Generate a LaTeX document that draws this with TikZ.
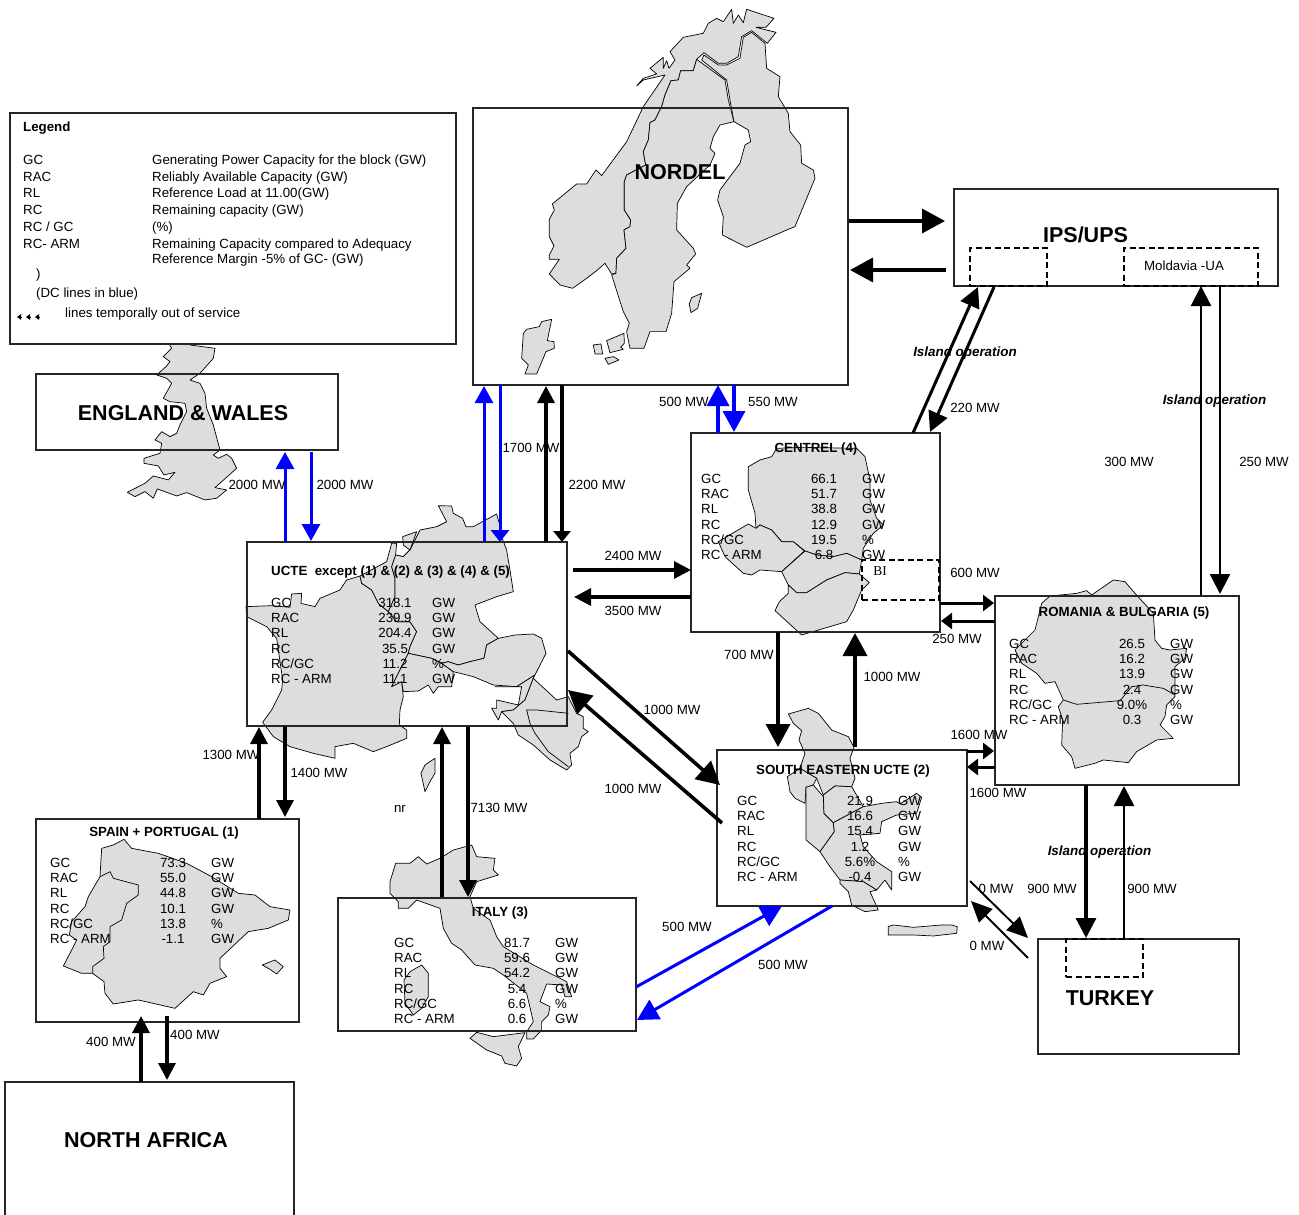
\documentclass[tikz,border=0pt]{standalone}
\usepackage{xcolor}
\usepackage{fontspec}
\setmainfont{Liberation Sans}
\newfontfamily\biserif{Liberation Serif}
\usetikzlibrary{arrows.meta,positioning,calc}
\definecolor{mapgrey}{HTML}{DDDDDD}
\definecolor{dcblue}{HTML}{0000FF}
\tikzstyle{regionbox} = [rectangle, draw=black!85, line width=1.05pt, inner sep=0pt, outer sep=0pt]
\tikzstyle{dashbox} = [rectangle, draw=black, line width=1.6pt, dash pattern=on 6pt off 3.5pt, inner sep=0pt, outer sep=0pt]
\tikzstyle{mapshape} = [draw=black, line width=0.7pt, fill=mapgrey, line join=round]
\tikzstyle{arrow} = [-{Triangle[length=17pt,width=17pt]}, line width=3.2pt, black]
\tikzstyle{bigarrow} = [-{Triangle[length=23pt,width=24pt]}, line width=3.6pt, black]
\tikzstyle{midarrow} = [-{Triangle[length=20pt,width=20pt]}, line width=3pt, black]
\tikzstyle{smallarrow} = [-{Triangle[length=11pt,width=16pt]}, line width=3pt, black]
\tikzstyle{thinarrow} = [-{Triangle[length=21pt,width=19pt]}, line width=1.9pt, black]
\tikzstyle{bluearrow} = [-{Triangle[length=17pt,width=18pt]}, line width=3pt, dcblue]
\tikzstyle{bigblue} = [-{Triangle[length=21pt,width=22pt]}, line width=3.6pt, dcblue]
\tikzstyle{tinyarrow} = [-{Triangle[length=4pt,width=5.5pt]}, line width=0.8pt, black]
\tikzstyle{plain} = [font=\fontsize{13.3}{15}\selectfont, inner sep=0pt, text height=9.3pt, text depth=0pt]
\tikzstyle{rowtext} = [plain, anchor=west]
\tikzstyle{mwlabel} = [plain]
\tikzstyle{titletext} = [font=\fontsize{13.3}{15}\selectfont\bfseries, inner sep=0pt, text height=9.3pt, text depth=0pt]
\tikzstyle{bigname} = [font=\fontsize{21.5}{24}\selectfont\bfseries, inner sep=0pt, text height=15.4pt, text depth=0pt]
\tikzstyle{islandtext} = [font=\fontsize{13.4}{15}\selectfont\bfseries\itshape, inner sep=0pt, text height=9.4pt, text depth=0pt]
\newcommand{\regiontable}[6]{%
  \foreach \lab/\val/\unit [count=\i] in {#6} {
    \node[rowtext] (#1lab\i) at (#2, #5+15.3*\i-15.3) {\lab};
    \node[plain] (#1val\i) at (#3, #5+15.3*\i-15.3) {\val};
    \node[rowtext] (#1unit\i) at (#4, #5+15.3*\i-15.3) {\unit};
  }
}
\begin{document}
\begin{tikzpicture}[x=1pt,y=-1pt]
\useasboundingbox (0,0) rectangle (1299,1215);

\begin{scope}[shift={(470,0)},x=0.3333pt,y=-0.3333pt]
\draw[mapshape] (830,28) -- (912,55) -- (888,82) -- (858,82) -- (918,97) -- (892,130) -- (845,92) -- (815,110) -- (805,170) -- (770,190) -- (745,190) -- (702,158) -- (680,178) -- (670,212) -- (632,212) -- (625,240) -- (603,242) -- (585,285) -- (575,320) -- (555,360) -- (540,368) -- (535,420) -- (520,455) -- (527,495) -- (470,525) -- (463,545) -- (463,630) -- (482,660) -- (480,680) -- (462,690) -- (468,745) -- (440,775) -- (438,820) -- (425,822) -- (405,790) -- (380,812) -- (350,835) -- (308,865) -- (270,855) -- (238,822) -- (268,778) -- (238,778) -- (238,765) -- (252,738) -- (238,710) -- (238,658) -- (253,630) -- (247,612) -- (320,552) -- (350,552) -- (378,510) -- (395,527) -- (470,425) -- (520,320) -- (585,225) -- (520,240) -- (500,258) -- (520,235) -- (560,222) -- (540,205) -- (580,172) -- (580,205) -- (590,182) -- (597,205) -- (615,180) -- (600,155) -- (640,112) -- (700,100) -- (715,70) -- (740,55) -- (760,65) -- (785,28) -- (790,70) -- (805,45) -- (820,68) -- cycle;
\draw[mapshape] (680,178) -- (765,240) -- (775,300) -- (792,365) -- (750,375) -- (730,410) -- (720,445) -- (735,460) -- (720,495) -- (650,560) -- (622,610) -- (620,690) -- (670,745) -- (677,762) -- (650,795) -- (660,805) -- (612,845) -- (605,940) -- (588,995) -- (540,995) -- (522,1045) -- (480,1045) -- (470,995) -- (478,970) -- (460,935) -- (425,825) -- (438,820) -- (440,775) -- (468,745) -- (462,690) -- (480,680) -- (482,660) -- (463,630) -- (463,545) -- (470,525) -- (527,495) -- (520,455) -- (535,420) -- (540,368) -- (555,360) -- (575,320) -- (585,285) -- (603,242) -- (625,240) -- (632,212) -- (670,212) -- cycle;
\draw[mapshape] (792,365) -- (835,390) -- (842,425) -- (825,435) -- (810,490) -- (750,570) -- (743,600) -- (760,650) -- (757,705) -- (830,742) -- (955,688) -- (975,680) -- (1035,535) -- (1030,510) -- (995,490) -- (992,435) -- (960,395) -- (955,340) -- (925,290) -- (930,230) -- (890,205) -- (885,130) -- (845,97) -- (820,112) -- (810,175) -- (770,195) -- (745,195) -- (702,165) -- (695,180) -- (770,240) -- (780,300) -- cycle;
\draw[mapshape] (695,880) -- (665,893) -- (658,912) -- (663,938) -- (683,925) -- cycle;
\draw[mapshape] (245,958) -- (215,965) -- (208,980) -- (170,988) -- (160,1000) -- (155,1075) -- (175,1095) -- (165,1122) -- (200,1122) -- (228,1055) -- (253,1045) -- (252,1025) -- (232,1022) -- cycle;
\draw[mapshape] (370,1035) -- (393,1032) -- (398,1062) -- (375,1062) -- cycle;
\draw[mapshape] (410,1022) -- (462,1000) -- (463,1030) -- (452,1042) -- (460,1048) -- (420,1058) -- cycle;
\draw[mapshape] (405,1075) -- (430,1070) -- (447,1080) -- (415,1093) -- cycle;
\end{scope}

\begin{scope}[shift={(0,100)},x=0.3333pt,y=-0.3333pt]
\draw[mapshape] (490,700) -- (515,745) -- (490,770) -- (510,785) -- (498,800) -- (470,825) -- (500,835) -- (515,850) -- (490,895) -- (510,905) -- (555,910) -- (560,935) -- (540,975) -- (530,1000) -- (510,1010) -- (485,995) -- (465,1020) -- (485,1030) -- (480,1060) -- (432,1075) -- (432,1090) -- (475,1098) -- (492,1125) -- (525,1117) -- (505,1140) -- (460,1128) -- (435,1150) -- (382,1177) -- (405,1190) -- (435,1175) -- (460,1195) -- (472,1167) -- (530,1188) -- (560,1178) -- (615,1200) -- (650,1195) -- (680,1170) -- (645,1163) -- (710,1105) -- (695,1075) -- (680,1063) -- (655,1075) -- (640,1065) -- (660,1050) -- (640,975) -- (620,925) -- (615,880) -- (600,850) -- (570,840) -- (600,820) -- (640,775) -- (645,745) -- (570,735) -- (560,700) -- cycle;
\end{scope}

\begin{scope}[shift={(240,490)},x=0.3333pt,y=-0.3333pt]
\draw[mapshape] (18,350) -- (95,347) -- (150,352) -- (155,312) -- (185,310) -- (183,340) -- (225,350) -- (240,325) -- (300,300) -- (320,270) -- (360,258) -- (365,280) -- (395,300) -- (415,340) -- (445,365) -- (470,395) -- (510,395) -- (530,425) -- (510,470) -- (505,490) -- (490,520) -- (470,560) -- (455,590) -- (485,575) -- (490,620) -- (480,660) -- (478,705) -- (500,720) -- (500,745) -- (440,770) -- (400,785) -- (340,760) -- (285,770) -- (285,805) -- (220,790) -- (150,770) -- (100,740) -- (68,697) -- (95,660) -- (125,600) -- (128,570) -- (110,445) -- (80,410) -- (50,395) -- (20,380) -- cycle;
\draw[mapshape] (360,258) -- (440,215) -- (455,160) -- (470,160) -- (467,195) -- (490,200) -- (510,180) -- (530,125) -- (488,140) -- (490,165) -- (510,180) -- (490,200) -- (467,195) -- (455,230) -- (465,265) -- (465,320) -- (445,365) -- (415,340) -- (395,300) -- (365,280) -- cycle;
\draw[mapshape] (510,180) -- (540,120) -- (590,110) -- (620,95) -- (595,47) -- (635,48) -- (640,70) -- (668,85) -- (678,110) -- (700,110) -- (770,72) -- (778,100) -- (785,140) -- (800,180) -- (810,240) -- (820,305) -- (770,320) -- (705,345) -- (720,395) -- (775,445) -- (740,465) -- (732,505) -- (690,515) -- (655,525) -- (625,515) -- (605,520) -- (575,505) -- (505,490) -- (510,470) -- (530,425) -- (510,395) -- (470,395) -- (445,365) -- (465,320) -- (465,265) -- (455,230) -- (467,195) -- (490,200) -- cycle;
\draw[mapshape] (505,490) -- (575,505) -- (605,520) -- (640,545) -- (635,590) -- (595,590) -- (580,610) -- (565,585) -- (535,603) -- (490,605) -- (485,575) -- (455,590) -- (470,560) -- (490,520) -- cycle;
\draw[mapshape] (775,445) -- (825,435) -- (880,432) -- (905,445) -- (918,490) -- (885,555) -- (830,590) -- (760,585) -- (700,560) -- (640,545) -- (605,520) -- (625,515) -- (655,525) -- (690,515) -- (732,505) -- (740,465) -- cycle;
\draw[mapshape] (765,590) -- (830,590) -- (845,590) -- (835,645) -- (770,630) -- (770,655) -- (755,655) -- (775,690) -- (785,665) -- (820,660) -- (855,630) -- (880,565) -- (885,555) -- (830,590) -- cycle;
\draw[mapshape] (880,565) -- (950,630) -- (985,620) -- (1010,670) -- (1030,680) -- (1030,715) -- (1045,725) -- (1025,740) -- (1015,770) -- (990,790) -- (995,825) -- (980,840) -- (930,810) -- (880,765) -- (835,735) -- (820,700) -- (785,665) -- (820,660) -- (855,630) -- cycle;
\draw[draw=black, line width=0.7pt] (985,670) -- (890,660) -- (860,660) -- (870,700) -- (885,730) -- (925,785) -- (985,830);
\draw[mapshape] (585,805) -- (555,825) -- (543,850) -- (555,905) -- (570,875) -- (585,850) -- cycle;
\end{scope}

\begin{scope}[shift={(680,420)},x=0.3333pt,y=-0.3333pt]
\draw[mapshape] (205,140) -- (240,120) -- (275,110) -- (290,85) -- (370,82) -- (530,85) -- (555,110) -- (570,180) -- (570,240) -- (590,295) -- (610,315) -- (580,340) -- (550,385) -- (545,420) -- (500,400) -- (460,410) -- (410,405) -- (375,393) -- (340,365) -- (305,365) -- (275,330) -- (240,315) -- (228,325) -- (225,280) -- (205,210) -- cycle;
\draw[mapshape] (228,325) -- (205,312) -- (115,365) -- (135,410) -- (190,460) -- (215,465) -- (240,450) -- (305,455) -- (373,393) -- (340,365) -- (305,365) -- (275,330) -- (240,315) -- cycle;
\draw[mapshape] (305,455) -- (375,393) -- (410,405) -- (460,410) -- (500,400) -- (545,420) -- (538,462) -- (495,458) -- (440,480) -- (380,518) -- (350,518) -- (325,495) -- cycle;
\draw[mapshape] (325,495) -- (350,518) -- (380,518) -- (440,480) -- (495,458) -- (538,462) -- (568,488) -- (545,510) -- (520,570) -- (500,605) -- (365,645) -- (285,572) -- (298,545) -- (325,520) -- cycle;
\end{scope}

\begin{scope}[shift={(700,690)},x=0.3333pt,y=-0.3333pt]
\draw[mapshape] (265,72) -- (325,55) -- (355,70) -- (395,120) -- (445,140) -- (462,172) -- (450,205) -- (465,265) -- (455,290) -- (405,288) -- (370,315) -- (350,265) -- (300,235) -- (315,190) -- (297,150) -- (305,122) -- (280,100) -- cycle;
\draw[mapshape] (300,235) -- (350,265) -- (340,285) -- (318,292) -- (315,340) -- (285,325) -- (270,305) -- (262,260) -- cycle;
\draw[mapshape] (318,292) -- (340,285) -- (370,320) -- (372,370) -- (400,398) -- (403,425) -- (360,485) -- (318,450) -- cycle;
\draw[mapshape] (370,315) -- (405,288) -- (455,290) -- (490,350) -- (400,398) -- (372,370) -- cycle;
\draw[mapshape] (360,485) -- (403,425) -- (400,398) -- (490,350) -- (545,340) -- (590,335) -- (600,342) -- (650,310) -- (665,322) -- (650,370) -- (590,375) -- (545,395) -- (540,430) -- (480,435) -- (490,470) -- (530,515) -- (575,545) -- (575,600) -- (555,570) -- (530,600) -- (490,575) -- (420,570) -- (390,530) -- cycle;
\draw[mapshape] (420,570) -- (490,575) -- (530,600) -- (510,605) -- (535,660) -- (495,665) -- (455,645) -- (445,605) -- (420,580) -- cycle;
\draw[mapshape] (565,710) -- (580,705) -- (640,712) -- (725,705) -- (755,705) -- (772,710) -- (770,730) -- (700,738) -- (640,735) -- (580,735) -- (565,735) -- cycle;
\end{scope}

\begin{scope}[shift={(980,570)},x=0.3333pt,y=-0.3333pt]
\draw[mapshape] (185,100) -- (210,78) -- (290,70) -- (320,62) -- (335,75) -- (400,30) -- (435,35) -- (465,70) -- (520,130) -- (525,210) -- (545,235) -- (570,240) -- (620,235) -- (615,265) -- (585,290) -- (585,345) -- (585,380) -- (560,405) -- (555,440) -- (540,465) -- (580,505) -- (530,510) -- (470,545) -- (445,578) -- (370,570) -- (345,580) -- (285,595) -- (275,560) -- (245,525) -- (248,450) -- (235,410) -- (250,390) -- (225,335) -- (195,340) -- (170,310) -- (125,280) -- (105,240) -- (165,180) -- cycle;
\draw[draw=black, line width=0.7pt] (250,390) -- (290,403) -- (420,392) -- (455,350) -- (490,345) -- (550,355) -- (585,375);
\end{scope}

\begin{scope}[shift={(30,810)},x=0.3333pt,y=-0.3333pt]
\draw[mapshape] (215,115) -- (250,105) -- (282,88) -- (305,115) -- (385,130) -- (470,160) -- (545,200) -- (625,250) -- (675,255) -- (720,290) -- (780,300) -- (775,330) -- (715,355) -- (655,365) -- (570,445) -- (570,475) -- (590,500) -- (540,520) -- (520,555) -- (490,545) -- (435,595) -- (325,570) -- (250,582) -- (225,550) -- (222,515) -- (188,490) -- (155,490) -- (100,468) -- (125,420) -- (140,390) -- (118,375) -- (125,335) -- (165,290) -- (175,260) -- (210,200) -- cycle;
\draw[draw=black, line width=0.7pt] (210,200) -- (240,185) -- (250,205) -- (325,225) -- (325,255) -- (290,280) -- (275,330) -- (240,350) -- (240,395) -- (220,410) -- (222,445) -- (188,470) -- (188,490);
\draw[mapshape] (697,465) -- (735,450) -- (760,470) -- (740,492) -- (720,478) -- cycle;
\end{scope}

\begin{scope}[shift={(330,840)},x=0.3333pt,y=-0.3333pt]
\draw[mapshape] (197,70) -- (240,70) -- (265,50) -- (290,72) -- (330,55) -- (370,30) -- (425,15) -- (440,50) -- (495,55) -- (490,90) -- (505,105) -- (440,125) -- (420,170) -- (430,205) -- (480,240) -- (500,290) -- (520,320) -- (610,375) -- (710,425) -- (725,470) -- (705,470) -- (695,435) -- (650,432) -- (630,485) -- (660,500) -- (655,525) -- (635,545) -- (635,570) -- (610,597) -- (590,597) -- (590,575) -- (610,545) -- (590,460) -- (520,405) -- (490,385) -- (435,375) -- (395,330) -- (365,310) -- (340,265) -- (330,205) -- (260,180) -- (235,205) -- (205,205) -- (205,185) -- (180,160) -- (180,125) -- cycle;
\draw[mapshape] (240,395) -- (275,375) -- (295,400) -- (295,470) -- (275,505) -- (250,525) -- (225,490) -- (222,420) -- cycle;
\draw[mapshape] (420,595) -- (440,577) -- (490,590) -- (585,578) -- (565,620) -- (575,655) -- (560,678) -- (525,670) -- (515,648) -- (470,630) -- cycle;
\end{scope}

\node[regionbox, fill=white, anchor=north west, minimum width=446pt, minimum height=231pt] (legend) at (10,113) {};
\node[regionbox, minimum width=302pt, minimum height=76pt, below right=261pt and 26pt of legend.north west] (england) {};
\node[regionbox, minimum width=375pt, minimum height=277pt, below right=-5pt and 463pt of legend.north west] (nordel) {};
\node[regionbox, minimum width=324pt, minimum height=97pt, below right=81pt and 481pt of nordel.north west] (ips) {};
\node[regionbox, minimum width=249pt, minimum height=199pt, below right=325pt and 218pt of nordel.north west] (centrel) {};
\node[regionbox, minimum width=320pt, minimum height=184pt, below right=168pt and 211pt of england.north west] (ucte) {};
\node[regionbox, minimum width=244pt, minimum height=189pt, below right=163pt and 304pt of centrel.north west] (romania) {};
\node[regionbox, minimum width=250pt, minimum height=156pt, below right=317pt and 26pt of centrel.north west] (southeast) {};
\node[regionbox, minimum width=263pt, minimum height=203pt, below right=277pt and -211pt of ucte.north west] (spain) {};
\node[regionbox, minimum width=298pt, minimum height=133pt, below right=356pt and 91pt of ucte.north west] (italy) {};
\node[regionbox, minimum width=201pt, minimum height=115pt, below right=343pt and 43pt of romania.north west] (turkey) {};
\node[regionbox, minimum width=289pt, minimum height=150pt, below right=263pt and -31pt of spain.north west] (africa) {};

\node[dashbox, minimum width=77pt, minimum height=38pt, below right=59pt and 16pt of ips.north west] (ipsleft) {};
\node[dashbox, minimum width=134pt, minimum height=38pt, below right=59pt and 170pt of ips.north west] (moldavia) {};
\node[dashbox, minimum width=77pt, minimum height=40pt, below right=127pt and 171pt of centrel.north west] (bibox) {};
\node[dashbox, minimum width=77pt, minimum height=38pt, below right=0pt and 28pt of turkey.north west] (turkeydash) {};

\node[titletext, anchor=west] (legendtitle) at (23,126.5) {Legend};
\foreach \key/\txt/\yy [count=\i] in {GC/Generating Power Capacity for the block (GW)/160, RAC/Reliably Available Capacity (GW)/177, RL/Reference Load at 11.00(GW)/193, RC/Remaining capacity (GW)/210, {RC / GC}/(\%)/227, RC- ARM/Remaining Capacity compared to Adequacy/244} {
  \node[rowtext] (legendkey\i) at (23,\yy) {\key};
  \node[rowtext] (legendtext\i) at (152,\yy) {\txt};
}
\node[rowtext] (legendmargin) at (152,259) {Reference Margin -5\% of GC- (GW)};
\node[rowtext] (legendparen) at (36,274) {)};
\node[rowtext] (legenddc) at (36,293) {(DC lines in blue)};
\node[rowtext] (legendout) at (65,313) {lines temporally out of service};
\coordinate (legendmark) at (17,317);
\foreach \off in {0,9,18} {
  \draw[tinyarrow] ($(legendmark)+(\off+5,0)$) -- ($(legendmark)+(\off,0)$);
}

\node[bigname] (englandname) at (183,412.5) {ENGLAND \& WALES};
\node[bigname] (nordelname) at (680,171.5) {NORDEL};
\node[bigname] (ipsname) at (1085.5,234.5) {IPS/UPS};
\node[bigname] (turkeyname) at (1110,997.5) {TURKEY};
\node[bigname] (africaname) at (146,1139.5) {NORTH AFRICA};
\node[mwlabel] (moldavialabel) at (1184,265.5) {Moldavia -UA};
\node[inner sep=0pt, font=\biserif\fontsize{13.5}{15}\selectfont] (bilabel) at (880,571.5) {BI};

\node[titletext, anchor=west] (uctetitle) at (271,570.5) {UCTE\ \ except (1) \& (2) \& (3) \& (4) \& (5)};
\node[titletext] (centreltitle) at (816,447.5) {CENTREL (4)};
\node[titletext] (romaniatitle) at (1124,611.5) {ROMANIA \& BULGARIA (5)};
\node[titletext] (southeasttitle) at (843,769.5) {SOUTH EASTERN UCTE (2)};
\node[titletext] (spaintitle) at (164,831.5) {SPAIN + PORTUGAL (1)};
\node[titletext] (italytitle) at (500,911.5) {ITALY (3)};

\regiontable{ucte}{271}{395}{432}{602.5}{GC/318.1/GW, RAC/239.9/GW, RL/204.4/GW, RC/35.5/GW, {RC/GC}/11.2/\%, RC - ARM/11.1/GW}
\regiontable{centrel}{701}{824}{862}{478.5}{GC/66.1/GW, RAC/51.7/GW, RL/38.8/GW, RC/12.9/GW, {RC/GC}/19.5/\%, RC - ARM/6.8/GW}
\regiontable{romania}{1009}{1132}{1170}{643.5}{GC/26.5/GW, RAC/16.2/GW, RL/13.9/GW, RC/2.4/GW, {RC/GC}/9.0\%/\%, RC - ARM/0.3/GW}
\regiontable{southeast}{737}{860}{898}{800.5}{GC/21.9/GW, RAC/16.6/GW, RL/15.4/GW, RC/1.2/GW, {RC/GC}/5.6\%/\%, RC - ARM/-0.4/GW}
\regiontable{spain}{50}{173}{211}{862.5}{GC/73.3/GW, RAC/55.0/GW, RL/44.8/GW, RC/10.1/GW, {RC/GC}/13.8/\%, RC - ARM/-1.1/GW}
\regiontable{italy}{394}{517}{555}{942.5}{GC/81.7/GW, RAC/59.6/GW, RL/54.2/GW, RC/5.4/GW, {RC/GC}/6.6/\%, RC - ARM/0.6/GW}

\draw[bigarrow] ($(nordel.north east)+(1,113)$) -- ($(ips.north west)+(-9,32)$);
\draw[bigarrow] ($(ips.north west)+(-8,81)$) -- ($(nordel.north east)+(2,162)$);
\draw[bigblue] ($(centrel.north west)+(27,0)$) -- ($(nordel.south west)+(245,0)$);
\draw[bigblue] ($(nordel.south west)+(261,0)$) -- ($(centrel.north west)+(43,-1)$);
\draw[bluearrow] ($(ucte.north west)+(237,0)$) -- ($(nordel.south west)+(11,1)$);
\draw[bluearrow, -{Triangle[length=12pt,width=18pt]}] ($(nordel.south west)+(27,0)$) -- ($(ucte.north west)+(253,0)$);
\draw[arrow] ($(ucte.north west)+(299,0)$) -- ($(nordel.south west)+(73,1)$);
\draw[arrow, -{Triangle[length=11pt,width=17pt]}] ($(nordel.south west)+(89,0)$) -- ($(ucte.north west)+(315,0)$);
\draw[bluearrow] ($(ucte.north west)+(38,0)$) -- ($(england.south west)+(249,2)$);
\draw[bluearrow] ($(england.south west)+(275,2)$) -- ($(ucte.north west)+(64,-1)$);
\draw[arrow] ($(ucte.north east)+(6,28)$) -- ($(centrel.north west)+(0,137)$);
\draw[arrow] ($(centrel.north west)+(0,164)$) -- ($(ucte.north east)+(7,55)$);
\draw[bigarrow] ($(ucte.south east)+(1,-75)$) -- ($(southeast.north west)+(3,35)$);
\draw[bigarrow] ($(southeast.south west)+(5,-83)$) -- ($(ucte.south east)+(1,-36)$);
\draw[bigarrow] ($(centrel.south west)+(87,0)$) -- ($(southeast.north west)+(61,-3)$);
\draw[bigarrow] ($(southeast.north west)+(138,-3)$) -- ($(centrel.south west)+(164,1)$);
\draw[smallarrow] ($(centrel.south east)+(0,-29)$) -- ($(romania.north west)+(-1,7)$);
\draw[smallarrow] ($(romania.north west)+(0,25)$) -- ($(centrel.south east)+(1,-11)$);
\draw[smallarrow] ($(southeast.north east)+(0,1)$) -- ($(romania.south west)+(-1,-34)$);
\draw[smallarrow] ($(romania.south west)+(0,-18)$) -- ($(southeast.north east)+(0,17)$);
\draw[midarrow] ($(centrel.north east)+(-27,0)$) -- ($(ips.south west)+(24,1)$);
\draw[midarrow] ($(ips.south west)+(40,1)$) -- ($(centrel.north east)+(-10,-1)$);
\draw[midarrow, line width=2.2pt] ($(romania.north west)+(206,-1)$) -- ($(ips.south west)+(247,0)$);
\draw[midarrow, line width=2.6pt] ($(ips.south west)+(266,0)$) -- ($(romania.north west)+(225,-2)$);
\draw[midarrow, line width=3.2pt] ($(romania.south west)+(91,0)$) -- ($(turkey.north west)+(48,-1)$);
\draw[midarrow, line width=2.6pt] ($(turkey.north west)+(86,0)$) -- ($(romania.south west)+(129,1)$);
\draw[thinarrow] ($(southeast.south east)+(3,-25)$) -- ($(turkey.north west)+(-10,-1)$);
\draw[thinarrow] ($(turkey.north west)+(-10,19)$) -- ($(southeast.south east)+(4,-5)$);
\draw[bigblue, line width=3pt] ($(italy.north east)+(0,89)$) -- ($(southeast.south west)+(65,0)$);
\draw[bigblue, line width=3pt] ($(southeast.south west)+(115,0)$) -- ($(italy.south east)+(1,-11)$);
\draw[arrow] ($(italy.north west)+(104,-1)$) -- ($(ucte.south west)+(195,1)$);
\draw[arrow] ($(ucte.south west)+(221,1)$) -- ($(italy.north west)+(130,-1)$);
\draw[arrow] ($(spain.north west)+(223,0)$) -- ($(ucte.south west)+(12,1)$);
\draw[arrow] ($(ucte.south west)+(38,0)$) -- ($(spain.north west)+(249,-2)$);
\draw[arrow] ($(africa.north west)+(136,0)$) -- ($(spain.south west)+(105,-6)$);
\draw[arrow] ($(spain.south west)+(131,-6)$) -- ($(africa.north west)+(162,-2)$);

\foreach \nm/\xx/\yy/\txt in {a/684/402/500 MW, b/773/402/550 MW, c/531/448/1700 MW, d/597/485/2200 MW, e/257/485/2000 MW, f/345/485/2000 MW, g/633/556/2400 MW, h/633/611/3500 MW, i/672/710/1000 MW, j/633/789/1000 MW, k/749/655/700 MW, l/892/677/1000 MW, m/975/573/600 MW, n/957/639/250 MW, o/979/735/1600 MW, p/998/793/1600 MW, q/975/408/220 MW, r/1129/462/300 MW, s/1264/462/250 MW, t/1052/889/900 MW, u/1152/889/900 MW, v/996/889/0 MW, w/987/946/0 MW, x/687/927/500 MW, y/783/965/500 MW, z/400/808/nr, aa/499/808/7130 MW, ab/231/755/1300 MW, ac/319/773/1400 MW, ad/111/1042/400 MW, ae/195/1035/400 MW} {
  \node[mwlabel] (flow\nm) at (\xx,\yy) {\txt};
}
\node[islandtext] (islanda) at (965,351.5) {Island operation};
\node[islandtext] (islandb) at (1214.5,399.5) {Island operation};
\node[islandtext] (islandc) at (1099.5,850.5) {Island operation};
\end{tikzpicture}
\end{document}
